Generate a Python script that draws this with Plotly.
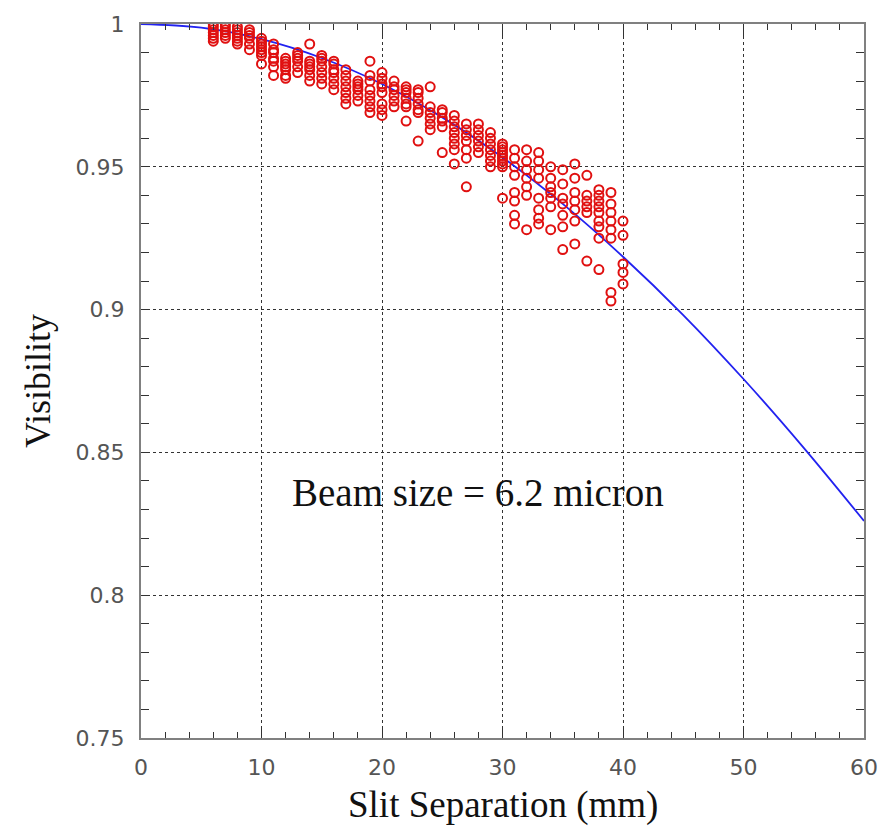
import plotly.graph_objects as go

# Measured visibility at each slit separation (mm)
sep_6 = [1.000, 0.999, 0.998, 0.997, 0.996, 0.995, 0.994]
sep_7 = [1.000, 0.999, 0.998, 0.997, 0.996, 0.995]
sep_8 = [0.999, 0.998, 0.997, 0.996, 0.995, 0.994, 0.993]
sep_9 = [0.998, 0.997, 0.996, 0.995, 0.993, 0.991]
sep_10 = [0.995, 0.994, 0.993, 0.992, 0.991, 0.990, 0.989, 0.986]
sep_11 = [0.993, 0.991, 0.990, 0.988, 0.987, 0.985, 0.982]
sep_12 = [0.988, 0.987, 0.986, 0.985, 0.984, 0.982, 0.981]
sep_13 = [0.990, 0.989, 0.988, 0.987, 0.985, 0.983]
sep_14 = [0.993, 0.987, 0.986, 0.985, 0.984, 0.982, 0.980]
sep_15 = [0.989, 0.988, 0.987, 0.985, 0.983, 0.981, 0.979]
sep_16 = [0.987, 0.986, 0.984, 0.983, 0.981, 0.979, 0.977]
sep_17 = [0.984, 0.982, 0.980, 0.978, 0.976, 0.974, 0.972]
sep_18 = [0.980, 0.979, 0.978, 0.977, 0.975, 0.973]
sep_19 = [0.987, 0.982, 0.980, 0.977, 0.975, 0.973, 0.971, 0.969]
sep_20 = [0.983, 0.981, 0.979, 0.978, 0.976, 0.972, 0.970, 0.968]
sep_21 = [0.980, 0.978, 0.977, 0.975, 0.973, 0.971]
sep_22 = [0.978, 0.977, 0.976, 0.974, 0.972, 0.971, 0.966]
sep_23 = [0.977, 0.976, 0.974, 0.972, 0.970, 0.969, 0.959]
sep_24 = [0.978, 0.971, 0.969, 0.967, 0.965, 0.963]
sep_25 = [0.970, 0.969, 0.967, 0.966, 0.964, 0.955]
sep_26 = [0.968, 0.966, 0.964, 0.962, 0.960, 0.958, 0.956, 0.951]
sep_27 = [0.965, 0.963, 0.961, 0.959, 0.956, 0.953, 0.943]
sep_28 = [0.965, 0.963, 0.961, 0.959, 0.957, 0.955]
sep_29 = [0.962, 0.960, 0.958, 0.956, 0.954, 0.952, 0.950]
sep_30 = [0.958, 0.957, 0.956, 0.955, 0.954, 0.953, 0.952, 0.951, 0.950, 0.939]
sep_31 = [0.956, 0.953, 0.950, 0.947, 0.941, 0.938, 0.933, 0.930]
sep_32 = [0.956, 0.952, 0.949, 0.946, 0.943, 0.940, 0.928]
sep_33 = [0.955, 0.952, 0.949, 0.946, 0.939, 0.935, 0.932, 0.930]
sep_34 = [0.950, 0.946, 0.943, 0.941, 0.939, 0.936, 0.928]
sep_35 = [0.949, 0.944, 0.939, 0.937, 0.933, 0.929, 0.921]
sep_36 = [0.951, 0.946, 0.941, 0.938, 0.935, 0.931, 0.923]
sep_37 = [0.947, 0.940, 0.938, 0.936, 0.934, 0.917]
sep_38 = [0.942, 0.940, 0.938, 0.936, 0.934, 0.931, 0.929, 0.925, 0.914]
sep_39 = [0.941, 0.937, 0.934, 0.931, 0.928, 0.925, 0.906, 0.903]
sep_40 = [0.931, 0.926, 0.916, 0.913, 0.909]

measured = {
    6: sep_6, 7: sep_7, 8: sep_8, 9: sep_9, 10: sep_10, 11: sep_11,
    12: sep_12, 13: sep_13, 14: sep_14, 15: sep_15, 16: sep_16, 17: sep_17,
    18: sep_18, 19: sep_19, 20: sep_20, 21: sep_21, 22: sep_22, 23: sep_23,
    24: sep_24, 25: sep_25, 26: sep_26, 27: sep_27, 28: sep_28, 29: sep_29,
    30: sep_30, 31: sep_31, 32: sep_32, 33: sep_33, 34: sep_34, 35: sep_35,
    36: sep_36, 37: sep_37, 38: sep_38, 39: sep_39, 40: sep_40,
}

# Fitted visibility curve for a 6.2 micron beam
fit_sep = [0, 5, 10, 15, 20, 25, 30, 35, 40, 45, 50, 55, 60]
fit_vis = [1.0, 0.9987, 0.9947, 0.9881, 0.9790, 0.9673, 0.9533,
           0.9370, 0.9185, 0.8981, 0.8757, 0.8516, 0.8260]

x_ticks = [0, 10, 20, 30, 40, 50, 60]
y_ticks = [0.75, 0.8, 0.85, 0.9, 0.95, 1.0]
y_tick_text = ["0.75", "0.8", "0.85", "0.9", "0.95", "1"]

pts_x, pts_y = [], []
for sep, vals in measured.items():
    pts_x += [sep] * len(vals)
    pts_y += vals

SERIF = "Liberation Serif, Times New Roman, serif"
SANS = "DejaVu Sans, Arial, sans-serif"

fig = go.Figure()
fig.add_trace(go.Scatter(
    x=fit_sep, y=fit_vis, mode="lines", line_shape="spline",
    line=dict(color="#2222f0", width=1.8), hoverinfo="skip",
))
fig.add_trace(go.Scatter(
    x=pts_x, y=pts_y, mode="markers",
    marker=dict(symbol="circle-open", size=9, color="#e01010",
                line=dict(color="#e01010", width=2)),
))

axis_common = dict(
    showline=True, linecolor="#808080", linewidth=2, mirror="ticks",
    ticks="inside", tickcolor="#333333", tickwidth=1,
    showgrid=True, gridcolor="#333333", gridwidth=1, griddash="dot",
    zeroline=False,
    tickfont=dict(family=SANS, size=22, color="#555555"),
)

fig.update_xaxes(
    range=[0, 60], tickvals=x_ticks, ticklen=12,
    minor=dict(dtick=2, ticks="inside", ticklen=6, tickcolor="#333333", showgrid=False),
    ticklabelstandoff=9,
    **axis_common,
)
fig.update_yaxes(
    range=[0.75, 1.0], tickvals=y_ticks, ticktext=y_tick_text, ticklen=8,
    minor=dict(dtick=0.01, ticks="inside", ticklen=8, tickcolor="#333333", showgrid=False),
    title=dict(text="Visibility", standoff=14,
               font=dict(family=SERIF, size=36, color="#111111")),
    ticklabelstandoff=10,
    **axis_common,
)

# x-axis title, placed just under the tick labels
fig.add_annotation(
    xref="paper", yref="paper", x=0.5, y=-68 / 724, yanchor="middle",
    text="Slit Separation (mm)", showarrow=False,
    font=dict(family=SERIF, size=37, color="#111111"),
)
fig.add_annotation(
    x=28, y=0.836, text="Beam size = 6.2 micron", showarrow=False,
    font=dict(family=SERIF, size=39, color="#111111"),
)

fig.update_layout(
    width=891, height=829,
    margin=dict(l=141, r=27, t=14, b=91),
    plot_bgcolor="white", paper_bgcolor="white",
    showlegend=False,
)

fig.write_html("out.html")
